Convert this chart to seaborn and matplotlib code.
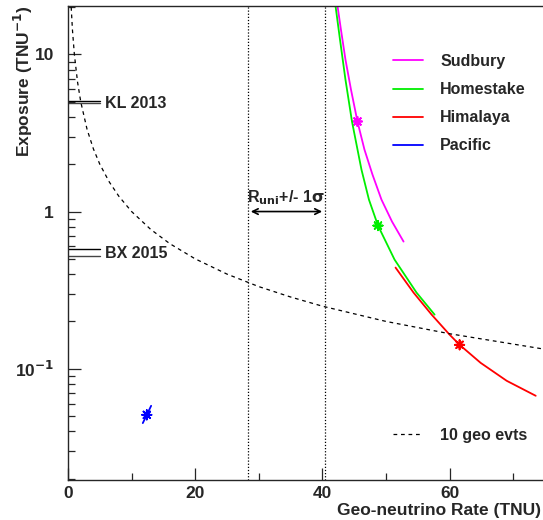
import numpy as np
import pandas as pd
import matplotlib
matplotlib.use("Agg")
import matplotlib.pyplot as plt
import seaborn as sns

# curves (rate in TNU, exposure in 1/TNU)
sudbury_x = [42.36, 42.91, 43.62, 44.49, 45.51, 46.61, 47.87, 49.29, 50.94, 52.76]
sudbury_y = [20.5, 14.4, 9.29, 5.98, 3.74, 2.48, 1.72, 1.19, 0.864, 0.644]
homestake_x = [42.05, 42.76, 43.62, 44.65, 46.14, 47.32, 48.74, 51.34, 54.80, 57.64]
homestake_y = [20.5, 12.46, 6.93, 3.74, 1.85, 1.19, 0.814, 0.495, 0.305, 0.221]
himalaya_x = [51.50, 54.33, 57.17, 60.0, 61.57, 64.88, 68.98, 73.54]
himalaya_y = [0.440, 0.305, 0.221, 0.1647, 0.142, 0.109, 0.0838, 0.0673]
pacific_x = [11.76, 12.39, 13.07]
pacific_y = [0.0451, 0.0509, 0.0581]

sites = ["Sudbury", "Homestake", "Himalaya", "Pacific"]
colors = ["#ff00ff", "#00ee00", "#ff0000", "#0000ff"]
star_x = [45.51, 48.74, 61.57, 12.39]
star_y = [3.74, 0.814, 0.142, 0.0509]

# 10 geo events line
geo_x = [0.5, 0.7, 1.0, 1.5, 2.0, 3.0, 4.0, 5.0, 6.5, 8.0, 10.0, 13.0, 16.0,
         20.0, 25.0, 30.0, 35.0, 40.0, 50.0, 60.0, 75.0]
geo_y = [20.0, 14.3, 10.0, 6.67, 5.0, 3.33, 2.5, 2.0, 1.54, 1.25, 1.0, 0.77,
         0.625, 0.5, 0.4, 0.333, 0.286, 0.25, 0.2, 0.167, 0.133]

# measured experiments
kl_y = [5.04, 4.92]
bx_y = [0.578, 0.525]
exp_xmax = 5.0

# R_uni +/- 1 sigma band
r_uni_lo = 28.3
r_uni_hi = 40.4

frames = []
for name, xs, ys in [("Sudbury", sudbury_x, sudbury_y),
                     ("Homestake", homestake_x, homestake_y),
                     ("Himalaya", himalaya_x, himalaya_y),
                     ("Pacific", pacific_x, pacific_y)]:
    frames.append(pd.DataFrame({"rate": xs, "exposure": ys, "site": name}))
df = pd.concat(frames, ignore_index=True)
stars = pd.DataFrame({"rate": star_x, "exposure": star_y, "site": sites})
geo = pd.DataFrame({"rate": geo_x, "exposure": geo_y})

sns.set_style("ticks")
plt.rcParams["font.family"] = ["Liberation Sans", "DejaVu Sans"]
plt.rcParams["font.weight"] = "bold"
plt.rcParams["mathtext.default"] = "bf"
FS = 11.5

fig = plt.figure(figsize=(5.43, 5.20), dpi=100)
ax = fig.add_axes([68 / 543, 40 / 520, 477 / 543, 474 / 520])

pal = dict(zip(sites, colors))
sns.lineplot(data=df, x="rate", y="exposure", hue="site", palette=pal,
             sort=False, estimator=None, lw=1.3, ax=ax)
sns.scatterplot(data=stars, x="rate", y="exposure", hue="site", palette=pal,
                marker=(8, 2, 0), s=45, linewidth=1.3, legend=False, ax=ax)
sns.lineplot(data=geo, x="rate", y="exposure", color="black", lw=0.9,
             linestyle=(0, (3, 3)), sort=False, estimator=None,
             label="10 geo evts", ax=ax)

for yv, c in zip(kl_y, ["black", "#444444"]):
    ax.plot([0, exp_xmax], [yv, yv], color=c, lw=1.0)
for yv, c in zip(bx_y, ["black", "#444444"]):
    ax.plot([0, exp_xmax], [yv, yv], color=c, lw=1.0)
ax.text(5.8, np.mean(kl_y) * 0.975, "KL 2013", fontsize=FS, fontweight="bold", va="center")
ax.text(5.8, np.mean(bx_y) * 0.975, "BX 2015", fontsize=FS, fontweight="bold", va="center")

for xv in [r_uni_lo, r_uni_hi]:
    ax.axvline(xv, color="black", lw=0.9, linestyle=(0, (1, 1.5)))
ax.annotate("", xy=(r_uni_lo, 1.0), xytext=(r_uni_hi, 1.0),
            arrowprops=dict(arrowstyle="<->", color="black", lw=1.2))
ax.text((r_uni_lo + r_uni_hi) / 2, 1.07, r"R$_{\mathbf{uni}}$+/- 1$\sigma$",
        fontsize=FS, fontweight="bold", ha="center", va="bottom")

ax.set_yscale("log")
ax.set_xlim(0, 75)
ax.set_ylim(0.0196, 20.3)
ax.set_xticks([0, 20, 40, 60])
ax.set_xticks([10, 30, 50, 70], minor=True)
ax.set_yticks([0.1, 1, 10])
ax.set_yticklabels([r"10$^{\mathbf{-1}}$", "1", "10"])
ax.tick_params(axis="both", which="major", direction="in", length=9, width=0.9,
               labelsize=12.5, top=False, right=False)
ax.tick_params(axis="both", which="minor", direction="in", length=5, width=0.9,
               top=False, right=False)
ax.tick_params(axis="y", which="major", pad=10)
ax.tick_params(axis="x", which="major", pad=4)
for lab in ax.get_xticklabels() + ax.get_yticklabels():
    lab.set_fontweight("bold")
for sp in ax.spines.values():
    sp.set_linewidth(1.0)

ax.set_xlabel("Geo-neutrino Rate (TNU)", fontsize=12.5, fontweight="bold")
ax.xaxis.set_label_coords((541 - 68) / 477, (17 - 40) / 474)
ax.xaxis.label.set_ha("right")
ax.xaxis.label.set_va("top")
ax.set_ylabel(r"Exposure (TNU$^{\mathbf{-1}}$)", fontsize=12.5, fontweight="bold")
ax.yaxis.set_label_coords((23 - 68) / 477, (515 - 40) / 474)
ax.yaxis.label.set_ha("right")
ax.yaxis.label.set_va("center")

handles, labels = ax.get_legend_handles_labels()
site_h = [handles[labels.index(s)] for s in sites]
leg1 = ax.legend(site_h, sites, loc="upper left", frameon=False,
                 bbox_to_anchor=(393 / 543, 1 - 54 / 520), bbox_transform=fig.transFigure,
                 prop={"size": FS, "weight": "bold"}, handlelength=1.9,
                 handletextpad=1.05, labelspacing=0.82, borderpad=0, borderaxespad=0)
ax.add_artist(leg1)
geo_h = handles[labels.index("10 geo evts")]
ax.legend([geo_h], ["10 geo evts"], loc="upper left", frameon=False,
          bbox_to_anchor=(393 / 543, 1 - 428 / 520), bbox_transform=fig.transFigure,
          prop={"size": FS, "weight": "bold"}, handlelength=1.9,
          handletextpad=1.05, borderpad=0, borderaxespad=0)

fig.savefig("out.png", dpi=100)
